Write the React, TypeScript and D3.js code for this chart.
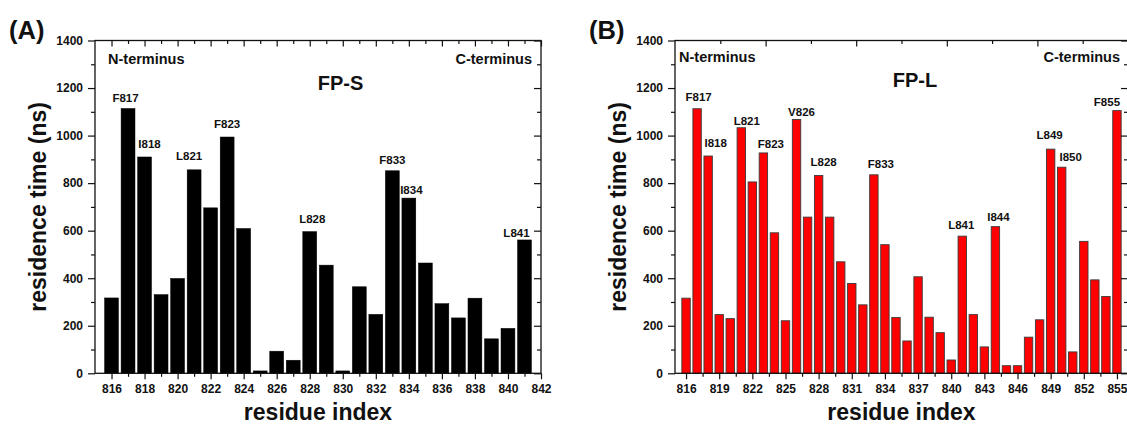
import { useEffect, useRef } from "react";
import * as d3 from "d3";

// ---- panel A: FP-S ----
const residuesS = [816, 817, 818, 819, 820, 821, 822, 823, 824, 825, 826, 827, 828, 829, 830, 831, 832, 833, 834, 835, 836, 837, 838, 839, 840, 841];
const timesS = [317, 1114, 910, 331, 399, 856, 696, 994, 609, 10, 93, 55, 596, 455, 10, 364, 248, 852, 737, 464, 293, 233, 316, 145, 189, 561];
const labelResS = [817, 818, 821, 823, 828, 833, 834, 841];
const labelTextS = ["F817", "I818", "L821", "F823", "L828", "F833", "I834", "L841"];
const xTicksS = [816, 818, 820, 822, 824, 826, 828, 830, 832, 834, 836, 838, 840, 842];

// ---- panel B: FP-L ----
const residuesL = [816, 817, 818, 819, 820, 821, 822, 823, 824, 825, 826, 827, 828, 829, 830, 831, 832, 833, 834, 835, 836, 837, 838, 839, 840, 841, 842, 843, 844, 845, 846, 847, 848, 849, 850, 851, 852, 853, 854, 855];
const timesL = [316, 1113, 914, 247, 230, 1033, 805, 927, 591, 221, 1068, 657, 832, 657, 469, 378, 288, 835, 541, 235, 136, 406, 236, 171, 56, 577, 247, 111, 617, 32, 32, 152, 225, 943, 867, 90, 555, 393, 323, 1105];
const labelResL = [817, 818, 821, 823, 826, 828, 833, 841, 844, 849, 850, 855];
const labelTextL = ["F817", "I818", "L821", "F823", "V826", "L828", "F833", "L841", "I844", "L849", "I850", "F855"];
const xTicksL = [816, 819, 822, 825, 828, 831, 834, 837, 840, 843, 846, 849, 852, 855];

const yTicks = [0, 200, 400, 600, 800, 1000, 1200, 1400];

const FONT = "'Liberation Sans', Arial, Helvetica, sans-serif";

type Panel = {
  left: number;
  right: number;
  top: number;
  bottom: number;
  domain: [number, number];
  residues: number[];
  times: number[];
  labelRes: number[];
  labelText: string[];
  xTicks: number[];
  barWidth: number;
  fill: string;
  stroke: string;
  strokeWidth: number;
  letter: string;
  title: string;
  titleX: number;
  titleY: number;
  nTermX: number;
  cTermX: number;
  termY: number;
  topDivisions?: number;
  // label nudges: [dx, gap above bar top]
  nudge: Record<string, [number, number]>;
};

function styleAxis(sel: any) {
  sel.select(".domain").remove();
  sel
    .attr("font-family", FONT)
    .attr("font-size", 12)
    .attr("font-weight", "bold");
  sel.selectAll("line").attr("stroke", "#111").attr("stroke-width", 1.2);
  sel.selectAll("text").attr("fill", "#111");
}

function drawPanel(svg: any, p: Panel) {
  const x = d3.scaleLinear().domain(p.domain).range([p.left, p.right]);
  const y = d3.scaleLinear().domain([0, 1400]).range([p.bottom, p.top]);
  const g = svg.append("g");

  const bw = (x(1) - x(0)) * p.barWidth;
  g.selectAll("rect.bar")
    .data(p.residues)
    .join("rect")
    .attr("class", "bar")
    .attr("x", (d: number) => x(d) - bw / 2)
    .attr("width", bw)
    .attr("y", (_: number, i: number) => y(p.times[i]))
    .attr("height", (_: number, i: number) => y(0) - y(p.times[i]))
    .attr("fill", p.fill)
    .attr("stroke", p.stroke)
    .attr("stroke-width", p.strokeWidth);

  // bar labels
  g.selectAll("text.lab")
    .data(p.labelRes)
    .join("text")
    .attr("class", "lab")
    .attr("x", (d: number, i: number) => x(d) + (p.nudge[p.labelText[i]]?.[0] ?? 0))
    .attr("y", (d: number, i: number) => {
      const v = p.times[p.residues.indexOf(d)];
      return y(v) - (p.nudge[p.labelText[i]]?.[1] ?? 7);
    })
    .attr("text-anchor", "middle")
    .attr("font-family", FONT)
    .attr("font-size", 11.5)
    .attr("font-weight", "bold")
    .attr("fill", "#111")
    .text((_: number, i: number) => p.labelText[i]);

  const yMinor = d3.pairs(yTicks).map(([a, b]) => (a + b) / 2);
  const xMinor = d3.pairs(p.xTicks).map(([a, b]) => (a + b) / 2);

  // left
  g.append("g")
    .attr("transform", `translate(${p.left},0)`)
    .call(d3.axisLeft(y).tickValues(yTicks).tickSize(7).tickPadding(5).tickFormat(d3.format("d")))
    .call(styleAxis);
  g.append("g")
    .attr("transform", `translate(${p.left},0)`)
    .call(d3.axisLeft(y).tickValues(yMinor).tickSize(4).tickFormat(() => ""))
    .call(styleAxis);
  // right (inward)
  g.append("g")
    .attr("transform", `translate(${p.right},0)`)
    .call(d3.axisRight(y).tickValues(yTicks).tickSize(-7).tickFormat(() => ""))
    .call(styleAxis);
  g.append("g")
    .attr("transform", `translate(${p.right},0)`)
    .call(d3.axisRight(y).tickValues(yMinor).tickSize(-4).tickFormat(() => ""))
    .call(styleAxis);
  // bottom
  g.append("g")
    .attr("transform", `translate(0,${p.bottom})`)
    .call(d3.axisBottom(x).tickValues(p.xTicks).tickSize(6).tickPadding(5).tickFormat(d3.format("d")))
    .call(styleAxis);
  g.append("g")
    .attr("transform", `translate(0,${p.bottom})`)
    .call(d3.axisBottom(x).tickValues(xMinor).tickSize(3.5).tickFormat(() => ""))
    .call(styleAxis);
  // top (inward)
  if (p.topDivisions) {
    const n = p.topDivisions;
    const xt = d3.scaleLinear().domain([0, n]).range([p.left, p.right]);
    const all = d3.range(1, n);
    g.append("g")
      .attr("transform", `translate(0,${p.top})`)
      .call(d3.axisTop(xt).tickValues(all.filter((d) => d % 2 === 0)).tickSize(-6).tickFormat(() => ""))
      .call(styleAxis);
    g.append("g")
      .attr("transform", `translate(0,${p.top})`)
      .call(d3.axisTop(xt).tickValues(all.filter((d) => d % 2 === 1)).tickSize(-3.5).tickFormat(() => ""))
      .call(styleAxis);
  } else {
    g.append("g")
      .attr("transform", `translate(0,${p.top})`)
      .call(d3.axisTop(x).tickValues(p.xTicks).tickSize(-6).tickFormat(() => ""))
      .call(styleAxis);
    g.append("g")
      .attr("transform", `translate(0,${p.top})`)
      .call(d3.axisTop(x).tickValues(xMinor).tickSize(-3.5).tickFormat(() => ""))
      .call(styleAxis);
  }

  // frame
  g.append("rect")
    .attr("x", p.left)
    .attr("y", p.top)
    .attr("width", p.right - p.left)
    .attr("height", p.bottom - p.top)
    .attr("fill", "none")
    .attr("stroke", "#111")
    .attr("stroke-width", 1.3);

  const txt = (s: string, tx: number, ty: number, size: number, anchor = "start") =>
    g.append("text")
      .attr("x", tx)
      .attr("y", ty)
      .attr("text-anchor", anchor)
      .attr("font-family", FONT)
      .attr("font-size", size)
      .attr("font-weight", "bold")
      .attr("fill", "#111")
      .text(s);

  txt(p.letter, p.left - 86, 39, 25.5);
  txt("N-terminus", p.nTermX, p.termY, 14.5);
  txt("C-terminus", p.cTermX, p.termY, 14.5, "end");
  txt(p.title, p.titleX, p.titleY, 20, "middle");
  txt("residue index", (p.left + p.right) / 2, 420, 23, "middle");
  txt("residence time (ns)", 0, 0, 23, "middle").attr(
    "transform",
    `translate(${p.left - 49},${(p.top + p.bottom) / 2}) rotate(-90)`
  );
}

export default function App() {
  const svgRef = useRef<SVGSVGElement>(null);

  useEffect(() => {
    const svg = d3.select(svgRef.current);
    svg.selectAll("*").remove();

    drawPanel(svg, {
      left: 95,
      right: 541,
      top: 40.5,
      bottom: 373.3,
      domain: [815, 842],
      residues: residuesS,
      times: timesS,
      labelRes: labelResS,
      labelText: labelTextS,
      xTicks: xTicksS,
      barWidth: 0.84,
      fill: "#000",
      stroke: "#000",
      strokeWidth: 0.5,
      letter: "(A)",
      title: "FP-S",
      titleX: 340.5,
      titleY: 90,
      nTermX: 108,
      cTermX: 532,
      termY: 64,
      nudge: {
        F817: [-2.5, 6.5],
        I818: [5, 9],
        L821: [-5, 10],
        F823: [0, 9],
        L828: [2.5, 9],
        F833: [0, 6.5],
        I834: [2.5, 4],
        L841: [-8, 3],
      },
    });

    drawPanel(svg, {
      left: 675,
      right: 1128,
      top: 40.5,
      bottom: 373.3,
      domain: [815, 856],
      residues: residuesL,
      times: timesL,
      labelRes: labelResL,
      labelText: labelTextL,
      xTicks: xTicksL,
      barWidth: 0.76,
      fill: "#ff0000",
      stroke: "#3a3a3a",
      strokeWidth: 0.9,
      letter: "(B)",
      title: "FP-L",
      titleX: 915,
      titleY: 87,
      nTermX: 679,
      cTermX: 1120,
      termY: 62,
      topDivisions: 10,
      nudge: {
        F817: [1.5, 8],
        I818: [7.5, 9],
        L821: [5.5, 3],
        F823: [7.5, 5],
        V826: [5, 3.5],
        L828: [5, 10],
        F833: [7, 7],
        L841: [-1, 7.5],
        I844: [3, 6],
        L849: [-1, 10.5],
        I850: [9, 6.5],
        F855: [-10, 4.5],
      },
    });
  }, []);

  return (
    <svg
      ref={svgRef}
      width={1127}
      height={427}
      style={{ position: "absolute", left: 0, top: 0, background: "#fff" }}
    />
  );
}
